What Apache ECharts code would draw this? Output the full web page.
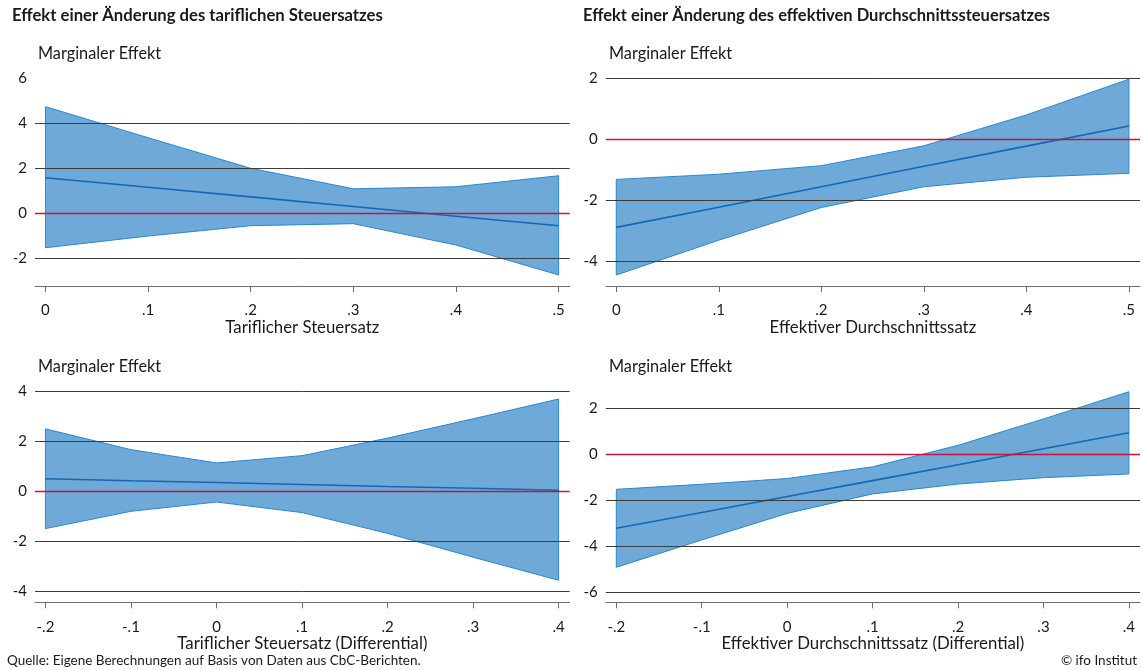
<!DOCTYPE html>
<html><head><meta charset="utf-8">
<script src="https://cdn.jsdelivr.net/npm/echarts@6/dist/echarts.min.js"></script>
<style>html,body{margin:0;padding:0;background:#fff}#c{width:1142px;height:670px}</style>
</head><body><div id="c"></div>
<script>
// ---------- DATA ----------
// Panel 1: Tariflicher Steuersatz
const p1X = [0, 0.1, 0.2, 0.3, 0.4, 0.5];
const p1Upper = [4.74, 3.36, 2.00, 1.09, 1.18, 1.67];
const p1Lower = [-1.53, -1.01, -0.55, -0.46, -1.41, -2.74];
const p1Mid = [1.58, 1.16, 0.73, 0.30, -0.13, -0.55];
const p1XTicks = [0, 0.1, 0.2, 0.3, 0.4, 0.5];
const p1XLabels = ['0', '.1', '.2', '.3', '.4', '.5'];
const p1YTicks = [-2, 0, 2, 4, 6];
const p1Grid = [4, 2, -2];

// Panel 2: Effektiver Durchschnittssatz
const p2X = [0, 0.1, 0.2, 0.3, 0.4, 0.5];
const p2Upper = [-1.31, -1.14, -0.86, -0.21, 0.80, 1.97];
const p2Lower = [-4.44, -3.30, -2.23, -1.55, -1.24, -1.11];
const p2Mid = [-2.88, -2.22, -1.55, -0.88, -0.22, 0.44];
const p2XTicks = [0, 0.1, 0.2, 0.3, 0.4, 0.5];
const p2XLabels = ['0', '.1', '.2', '.3', '.4', '.5'];
const p2YTicks = [-4, -2, 0, 2];
const p2Grid = [2, -2, -4];

// Panel 3: Tariflicher Steuersatz (Differential)
const p3X = [-0.2, -0.1, 0, 0.1, 0.2, 0.3, 0.4];
const p3Upper = [2.49, 1.66, 1.13, 1.42, 2.12, 2.89, 3.68];
const p3Lower = [-1.49, -0.80, -0.43, -0.85, -1.68, -2.63, -3.55];
const p3Mid = [0.50, 0.42, 0.35, 0.27, 0.19, 0.12, 0.04];
const p3XTicks = [-0.2, -0.1, 0, 0.1, 0.2, 0.3, 0.4];
const p3XLabels = ['-.2', '-.1', '0', '.1', '.2', '.3', '.4'];
const p3YTicks = [-4, -2, 0, 2, 4];
const p3Grid = [4, 2, -2, -4];

// Panel 4: Effektiver Durchschnittssatz (Differential)
const p4X = [-0.2, -0.1, 0, 0.1, 0.2, 0.3, 0.4];
const p4Upper = [-1.53, -1.31, -1.06, -0.55, 0.39, 1.54, 2.73];
const p4Lower = [-4.93, -3.74, -2.58, -1.73, -1.30, -1.02, -0.86];
const p4Mid = [-3.23, -2.54, -1.84, -1.15, -0.46, 0.24, 0.94];
const p4XTicks = [-0.2, -0.1, 0, 0.1, 0.2, 0.3, 0.4];
const p4XLabels = ['-.2', '-.1', '0', '.1', '.2', '.3', '.4'];
const p4YTicks = [-6, -4, -2, 0, 2];
const p4Grid = [2, -2, -4, -6];

const titleLeft = 'Effekt einer Änderung des tariflichen Steuersatzes';
const titleRight = 'Effekt einer Änderung des effektiven Durchschnittssteuersatzes';
const yName = 'Marginaler Effekt';
const xNames = ['Tariflicher Steuersatz', 'Effektiver Durchschnittssatz',
  'Tariflicher Steuersatz (Differential)', 'Effektiver Durchschnittssatz (Differential)'];
const source = 'Quelle: Eigene Berechnungen auf Basis von Daten aus CbC-Berichten.';
const credit = '© ifo Institut';

// ---------- STYLE / LAYOUT ----------
const FONT = 'Lato, "Source Sans Pro", sans-serif';
const TXT = '#1a1a1a';
const panels = [
  {x: p1X, up: p1Upper, lo: p1Lower, mid: p1Mid, xt: p1XTicks, xl: p1XLabels, yt: p1YTicks, g: p1Grid,
   grid: {left: 35, top: 78.3, width: 534.7, height: 207.7}, xmin: -0.0102, xmax: 0.5108, ymin: -3.23, ymax: 6},
  {x: p2X, up: p2Upper, lo: p2Lower, mid: p2Mid, xt: p2XTicks, xl: p2XLabels, yt: p2YTicks, g: p2Grid,
   grid: {left: 605.8, top: 78.3, width: 534.2, height: 207.7}, xmin: -0.0102, xmax: 0.5108, ymin: -4.80, ymax: 2},
  {x: p3X, up: p3Upper, lo: p3Lower, mid: p3Mid, xt: p3XTicks, xl: p3XLabels, yt: p3YTicks, g: p3Grid,
   grid: {left: 35, top: 391, width: 534.7, height: 211.3}, xmin: -0.2122, xmax: 0.413, ymin: -4.43, ymax: 4},
  {x: p4X, up: p4Upper, lo: p4Lower, mid: p4Mid, xt: p4XTicks, xl: p4XLabels, yt: p4YTicks, g: p4Grid,
   grid: {left: 605.8, top: 391, width: 534.2, height: 211.3}, xmin: -0.2123, xmax: 0.413, ymin: -6.46, ymax: 2.76}
];

const grids = [], xAxes = [], yAxes = [], series = [];
panels.forEach((p, i) => {
  grids.push(Object.assign({containLabel: false}, p.grid));
  xAxes.push({
    type: 'value', gridIndex: i, min: p.xmin, max: p.xmax,
    axisLine: {show: true, onZero: false, lineStyle: {color: '#6e6e6e', width: 1}},
    axisTick: {show: true, customValues: p.xt, length: 6, lineStyle: {color: '#6e6e6e'}},
    axisLabel: {customValues: p.xt, margin: 17, fontSize: 15, color: TXT, fontFamily: FONT,
      formatter: v => { const k = p.xt.findIndex(t => Math.abs(t - v) < 1e-9); return k >= 0 ? p.xl[k] : ''; }},
    splitLine: {show: false},
    name: xNames[i], nameLocation: 'middle', nameGap: 26,
    nameTextStyle: {fontSize: 16.8, color: TXT, fontFamily: FONT}
  });
  yAxes.push({
    type: 'value', gridIndex: i, min: p.ymin, max: p.ymax,
    axisLine: {show: false}, axisTick: {show: false}, splitLine: {show: false},
    axisLabel: {customValues: p.yt, margin: 8, fontSize: 15, color: TXT, fontFamily: FONT}
  });
  // gridlines
  series.push({
    type: 'line', name: 'grid' + i, xAxisIndex: i, yAxisIndex: i, data: [], z: 1, silent: true, animation: false,
    markLine: {
      silent: true, symbol: ['none', 'none'], animation: false, label: {show: false},
      lineStyle: {color: '#3c3c3c', width: 1, type: 'solid'},
      data: p.g.map(v => ({yAxis: v}))
    }
  });
  // zero line
  series.push({
    type: 'line', name: 'zero' + i, xAxisIndex: i, yAxisIndex: i, data: [], z: 2, silent: true, animation: false,
    markLine: {
      silent: true, symbol: ['none', 'none'], animation: false, label: {show: false},
      lineStyle: {color: '#c8143c', width: 1.3, type: 'solid'},
      data: [{yAxis: 0}]
    }
  });
  // confidence band
  series.push({
    type: 'custom', name: 'band' + i, xAxisIndex: i, yAxisIndex: i, z: 3, silent: true, animation: false,
    data: [[p.x[0], p.lo[0]]],
    renderItem: function (params, api) {
      const pts = [];
      for (let k = 0; k < p.x.length; k++) pts.push(api.coord([p.x[k], p.up[k]]));
      for (let k = p.x.length - 1; k >= 0; k--) pts.push(api.coord([p.x[k], p.lo[k]]));
      return {type: 'polygon', shape: {points: pts},
        style: {fill: 'rgba(28,120,192,0.64)', stroke: '#2a88cf', lineWidth: 1}};
    }
  });
  // point estimate
  series.push({
    type: 'line', name: 'mid' + i, xAxisIndex: i, yAxisIndex: i, z: 4, silent: true, animation: false,
    symbol: 'none', data: p.x.map((x, k) => [x, p.mid[k]]),
    lineStyle: {color: '#1468b3', width: 1.6}
  });
});

const txt = (x, y, s, opt) => ({type: 'text', x: x, y: y,
  style: Object.assign({text: s, fill: TXT, font: '15px ' + FONT, textVerticalAlign: 'middle'}, opt || {})});

const option = {
  animation: false,
  backgroundColor: '#fff',
  grid: grids, xAxis: xAxes, yAxis: yAxes, series: series,
  graphic: [
    txt(12, 16, titleLeft, {font: 'bold 16.7px ' + FONT}),
    txt(583, 16, titleRight, {font: 'bold 16.5px ' + FONT}),
    txt(38, 54, yName, {font: '16.3px ' + FONT}),
    txt(609, 54, yName, {font: '16.3px ' + FONT}),
    txt(38, 367, yName, {font: '16.3px ' + FONT}),
    txt(609, 367, yName, {font: '16.3px ' + FONT}),
    txt(7, 661, source, {font: '13.5px ' + FONT}),
    txt(1137, 661, credit, {font: '13.5px ' + FONT, textAlign: 'right'})
  ]
};
const chart = echarts.init(document.getElementById('c'), null, {renderer: 'canvas'});
chart.setOption(option);
</script></body></html>
